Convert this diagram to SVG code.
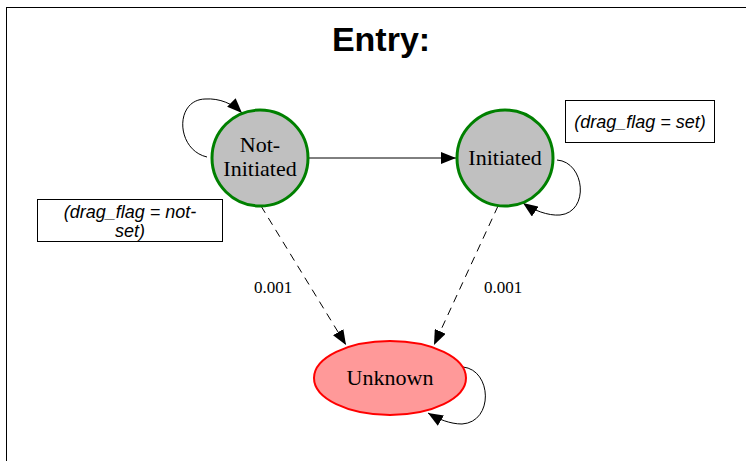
<svg xmlns="http://www.w3.org/2000/svg" width="746" height="461" viewBox="0 0 746 461">
<style>
.frame{fill:none;stroke:#000;stroke-width:1}
.st{fill:#c0c0c0;stroke:#008000;stroke-width:3}
.unk{fill:#ff9999;stroke:#ff0000;stroke-width:2}
.lbl{font-family:"Liberation Serif",serif;font-size:22px;fill:#000;text-anchor:middle}
.elbl{font-family:"Liberation Serif",serif;font-size:17px;fill:#000;text-anchor:middle}
.note{fill:#fff;stroke:#000;stroke-width:1}
.ntxt{font-family:"Liberation Sans",sans-serif;font-style:italic;font-size:18px;fill:#000;text-anchor:middle}
.title{font-family:"Liberation Sans",sans-serif;font-weight:bold;font-size:34px;fill:#000;text-anchor:middle}
.e{fill:none;stroke:#000;stroke-width:1}
.d{stroke-dasharray:8,6}
</style>
<defs>
<marker id="ah" markerUnits="userSpaceOnUse" markerWidth="16" markerHeight="12" refX="15" refY="6" orient="auto">
<path d="M0,0 L15,6 L0,12 Z" fill="#000"/>
</marker>
</defs>
<rect class="frame" x="6.5" y="7.5" width="760" height="470"/>
<text class="title" x="381" y="51">Entry:</text>
<g id="note-set">
<rect class="note" x="565.5" y="100.5" width="149" height="42"/>
<text class="ntxt" x="640" y="128">(drag_flag = set)</text>
</g>
<g id="note-notset">
<rect class="note" x="37.5" y="199.5" width="185" height="42"/>
<text class="ntxt" x="130" y="218">(drag_flag = not-</text>
<text class="ntxt" x="130" y="237">set)</text>
</g>
<g id="connectors">
<path class="e" marker-end="url(#ah)" d="M309,158 L456,158"/>
<path class="e" marker-end="url(#ah)" d="M207,157 C176,150 174,100 205,99 C220,98 233,104 242,113"/>
<path class="e" marker-end="url(#ah)" d="M557,160 C585,162 590,212 560,215 C548,216 533,210 523,203"/>
<path class="e" marker-end="url(#ah)" d="M463,367 C492,370 494,422 462,424 C450,424 438,419 428,413"/>
<path class="e d" marker-end="url(#ah)" d="M261,206 L346,345"/>
<path class="e d" marker-end="url(#ah)" d="M498,206 L434,345"/>
<text class="elbl" x="273" y="293">0.001</text>
<text class="elbl" x="503" y="293">0.001</text>
</g>
<g id="node-notinitiated">
<circle class="st" cx="260" cy="158" r="48"/>
<text class="lbl" x="260" y="152">Not-</text>
<text class="lbl" x="260" y="176">Initiated</text>
</g>
<g id="node-initiated">
<circle class="st" cx="505" cy="158" r="48"/>
<text class="lbl" x="505" y="165">Initiated</text>
</g>
<g id="node-unknown">
<ellipse class="unk" cx="390" cy="378" rx="76" ry="37"/>
<text class="lbl" x="390" y="385">Unknown</text>
</g>
</svg>
